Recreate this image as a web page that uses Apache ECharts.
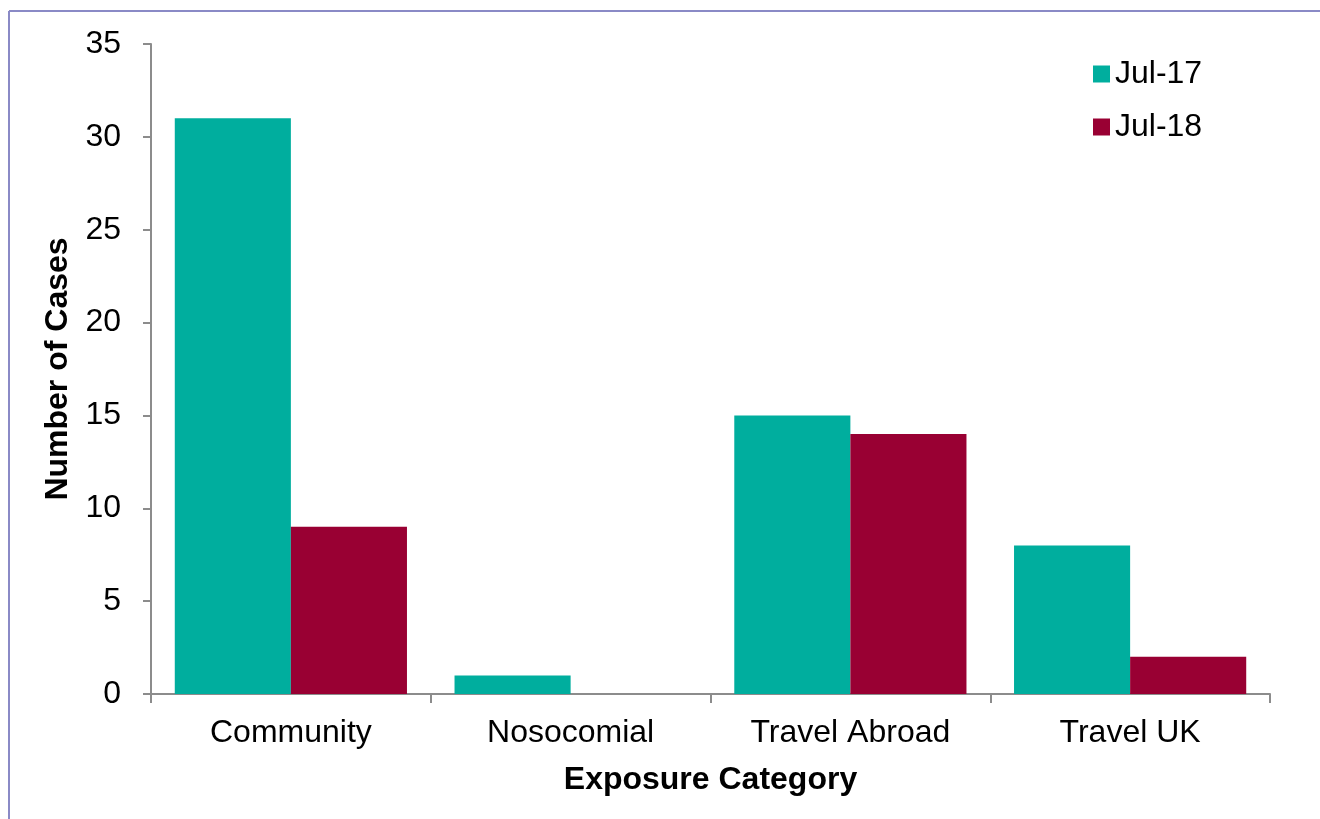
<!DOCTYPE html>
<html>
<head>
<meta charset="utf-8">
<script src="https://cdn.jsdelivr.net/npm/echarts@6/dist/echarts.min.js"></script>
<style>
html,body{margin:0;padding:0;background:#fff;}
#chart{width:1320px;height:819px;}
</style>
</head>
<body>
<div id="chart"></div>
<script>
const categories = ['Community', 'Nosocomial', 'Travel Abroad', 'Travel UK'];
const jul17 = [31, 1, 15, 8];
const jul18 = [9, 0, 14, 2];
const seriesNames = ['Jul-17', 'Jul-18'];

const font = 'Liberation Sans, Arial, sans-serif';
const chart = echarts.init(document.getElementById('chart'));
chart.setOption({
  animation: false,
  backgroundColor: '#ffffff',
  graphic: [
    {type: 'line', shape: {x1: 9, y1: 11, x2: 1320, y2: 11}, style: {stroke: '#8a8ac6', lineWidth: 2}},
    {type: 'line', shape: {x1: 9, y1: 11, x2: 9, y2: 819}, style: {stroke: '#8a8ac6', lineWidth: 2}}
  ],
  grid: {left: 151, right: 50, top: 44, bottom: 125, containLabel: false},
  legend: {
    orient: 'vertical',
    left: 1088,
    top: 53,
    itemWidth: 17,
    itemHeight: 17,
    itemGap: 21,
    icon: 'rect',
    textStyle: {fontFamily: font, fontSize: 32, color: '#000', lineHeight: 32},
    data: seriesNames
  },
  xAxis: {
    type: 'category',
    data: categories,
    name: 'Exposure Category',
    nameLocation: 'middle',
    nameGap: 70,
    nameTextStyle: {fontFamily: font, fontSize: 32, fontWeight: 'bold', color: '#000'},
    axisLine: {lineStyle: {color: '#8c8c8c', width: 2}},
    axisTick: {show: true, length: 9, lineStyle: {color: '#8c8c8c', width: 2}},
    axisLabel: {fontFamily: font, fontSize: 32, color: '#000', margin: 23},
    splitLine: {show: false}
  },
  yAxis: {
    type: 'value',
    min: 0,
    max: 35,
    interval: 5,
    name: 'Number of Cases',
    nameLocation: 'middle',
    nameGap: 71,
    nameRotate: 90,
    nameTextStyle: {fontFamily: font, fontSize: 32, fontWeight: 'bold', color: '#000'},
    axisLine: {show: true, lineStyle: {color: '#8c8c8c', width: 2}},
    axisTick: {show: true, length: 8, lineStyle: {color: '#8c8c8c', width: 2}},
    axisLabel: {fontFamily: font, fontSize: 32, color: '#000', margin: 30},
    splitLine: {show: false}
  },
  series: [
    {name: seriesNames[0], type: 'bar', data: jul17, barGap: '0%', barCategoryGap: '17%', itemStyle: {color: '#00ae9e'}},
    {name: seriesNames[1], type: 'bar', data: jul18, barGap: '0%', barCategoryGap: '17%', itemStyle: {color: '#990033'}}
  ]
});
</script>
</body>
</html>
